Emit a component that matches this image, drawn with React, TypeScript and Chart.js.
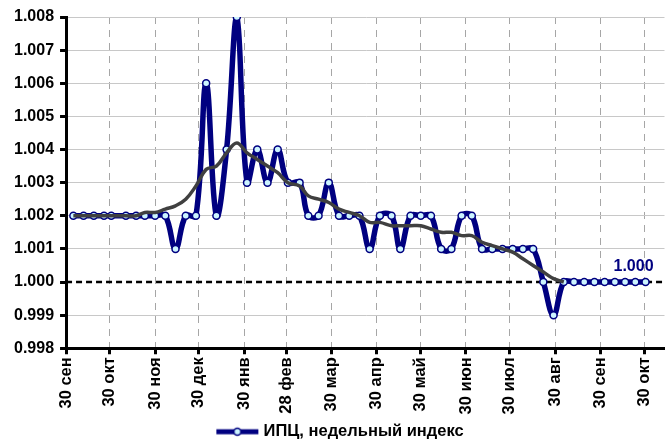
import React, { useEffect, useRef } from "react";
import { Chart, registerables } from "chart.js";

Chart.register(...registerables);

// x positions: days counted from 30 Sep
const tickDays = [0, 30, 61, 91, 122, 151, 182, 213, 243, 274, 304, 335, 366, 396];
const tickLabels = [
  "30 сен", "30 окт", "30 ноя", "30 дек", "30 янв", "28 фев", "30 мар",
  "30 апр", "30 май", "30 июн", "30 июл", "30 авг", "30 сен", "30 окт",
];

const weekDays = [
  5, 12, 19, 26, 31, 41, 48, 54, 61, 68,
  75, 82, 89, 96, 103, 110, 117, 124, 131, 138,
  145, 152, 160, 166, 173, 180, 187, 194, 201, 208,
  215, 223, 229, 236, 243, 250, 257, 264, 271, 278,
  285, 292, 299, 306, 313, 320, 327, 334, 341, 348,
  355, 362, 369, 376, 383, 390, 397,
];

const cpiWeekly = [
  1.002, 1.002, 1.002, 1.002, 1.002, 1.002, 1.002, 1.002, 1.002, 1.002,
  1.001, 1.002, 1.002, 1.006, 1.002, 1.004, 1.008, 1.003, 1.004, 1.003,
  1.004, 1.003, 1.003, 1.002, 1.002, 1.003, 1.002, 1.002, 1.002, 1.001,
  1.002, 1.002, 1.001, 1.002, 1.002, 1.002, 1.001, 1.001, 1.002, 1.002,
  1.001, 1.001, 1.001, 1.001, 1.001, 1.001, 1.0, 0.999, 1.0, 1.0,
  1.0, 1.0, 1.0, 1.0, 1.0, 1.0, 1.0,
];

const cpiTrend: (number | null)[] = [
  1.002, 1.002, 1.002, 1.002, 1.002, 1.002, 1.002, 1.0021, 1.0021, 1.0022,
  1.0023, 1.0025, 1.0029, 1.0034, 1.0035, 1.0039, 1.0042, 1.0039, 1.0037, 1.0035,
  1.0033, 1.003, 1.0029, 1.0026, 1.0025, 1.0024, 1.0022, 1.0021, 1.002, 1.0018,
  1.0018, 1.0017, 1.0017, 1.0017, 1.0017, 1.0016, 1.0015, 1.0015, 1.0014, 1.0014,
  1.0012, 1.0011, 1.001, 1.0009, 1.0007, 1.0005, 1.0003, 1.0001, 1.0,
  null, null, null, null, null, null, null, null,
];

const seriesName = "ИПЦ, недельный индекс";
const lastLabel = "1.000";

const FONT = "'Liberation Sans', Arial, sans-serif";
const NAVY = "#000080";
const MARKER_FILL = "#ccf4ff";

function makeLegendSymbol(): HTMLCanvasElement {
  const c = document.createElement("canvas");
  c.width = 44;
  c.height = 12;
  const g = c.getContext("2d")!;
  g.strokeStyle = NAVY;
  g.lineWidth = 5;
  g.beginPath();
  g.moveTo(1, 6);
  g.lineTo(43, 6);
  g.stroke();
  g.beginPath();
  g.arc(22, 6, 3.5, 0, Math.PI * 2);
  g.fillStyle = MARKER_FILL;
  g.fill();
  g.lineWidth = 1.5;
  g.strokeStyle = NAVY;
  g.stroke();
  return c;
}

export default function App() {
  const ref = useRef<HTMLCanvasElement | null>(null);

  useEffect(() => {
    if (!ref.current) return;
    const symbol = makeLegendSymbol();

    const refLinePlugin = {
      id: "refLine",
      beforeDatasetsDraw(chart: any) {
        const { ctx, chartArea, scales } = chart;
        const y = scales.y.getPixelForValue(1.0);
        ctx.save();
        ctx.strokeStyle = "#000000";
        ctx.lineWidth = 2.5;
        ctx.setLineDash([6, 4]);
        ctx.beginPath();
        ctx.moveTo(chartArea.left, y);
        ctx.lineTo(chartArea.right, y);
        ctx.stroke();
        ctx.restore();
      },
      afterDatasetsDraw(chart: any) {
        const meta = chart.getDatasetMeta(1);
        const pts = meta.data;
        const p = pts[pts.length - 1];
        if (!p) return;
        const { ctx } = chart;
        ctx.save();
        ctx.font = `bold 16px ${FONT}`;
        ctx.fillStyle = NAVY;
        ctx.textAlign = "right";
        ctx.textBaseline = "alphabetic";
        ctx.fillText(lastLabel, p.x + 8, p.y - 11);
        ctx.restore();
      },
    };

    const chart = new Chart(ref.current, {
      type: "line",
      data: {
        datasets: [
          {
            label: "trend",
            data: weekDays.map((d, i) => ({ x: d, y: cpiTrend[i] as any })),
            borderColor: "#404040",
            borderWidth: 3.5,
            pointRadius: 0,
            tension: 0.4,
            fill: false,
            order: 0,
            spanGaps: false,
          },
          {
            label: seriesName,
            data: weekDays.map((d, i) => ({ x: d, y: cpiWeekly[i] })),
            borderColor: NAVY,
            borderWidth: 5.5,
            pointRadius: 3.5,
            pointBorderWidth: 1.5,
            pointBackgroundColor: MARKER_FILL,
            pointBorderColor: NAVY,
            tension: 0.4,
            fill: false,
            order: 1,
          },
        ],
      },
      options: {
        animation: false,
        responsive: false,
        devicePixelRatio: 1,
        layout: { padding: { left: 8, right: -5, top: 17, bottom: -9 } },
        plugins: {
          tooltip: { enabled: false },
          legend: {
            position: "bottom",
            labels: {
              usePointStyle: true,
              pointStyleWidth: 36,
              color: "#000",
              font: { family: FONT, size: 16.5, weight: "bold" },
              padding: 6,
              generateLabels: () => [
                {
                  text: seriesName,
                  pointStyle: symbol as any,
                  datasetIndex: 1,
                  fillStyle: NAVY,
                  strokeStyle: NAVY,
                  lineWidth: 0,
                  hidden: false,
                },
              ],
            },
          },
        },
        scales: {
          x: {
            type: "linear",
            min: 0,
            max: 410,
            afterBuildTicks: (scale: any) => {
              scale.ticks = tickDays.map((v) => ({ value: v }));
            },
            ticks: {
              autoSkip: false,
              minRotation: 90,
              maxRotation: 90,
              padding: 3,
              color: "#000",
              font: { family: FONT, size: 16.5, weight: "bold" },
              callback: (_v: any, i: number) => tickLabels[i],
            },
            grid: {
              color: "#a6a6a6",
              lineWidth: 1,
              drawTicks: true,
              tickLength: 6,
              tickColor: "#000",
              tickWidth: 3,
            },
            border: { display: true, color: "#000", width: 3, dash: [7, 6] },
          },
          y: {
            type: "linear",
            min: 0.998,
            max: 1.008,
            ticks: {
              stepSize: 0.001,
              padding: 6,
              color: "#000",
              font: { family: FONT, size: 16, weight: "bold" },
              callback: (v: any) => Number(v).toFixed(3),
            },
            grid: {
              color: (c: any) =>
                c.tick && Math.abs(c.tick.value - 1.0) < 1e-9 ? "rgba(0,0,0,0)" : "#c8c8c8",
              lineWidth: 1,
              drawTicks: true,
              tickLength: 6,
              tickColor: "#000",
              tickWidth: 3,
            },
            border: { display: true, color: "#000", width: 3 },
          },
        },
      },
      plugins: [refLinePlugin],
    } as any);

    return () => chart.destroy();
  }, []);

  return (
    <div style={{ position: "fixed", left: 0, top: 0, width: 670, height: 441, background: "#fff" }}>
      <canvas ref={ref} width={670} height={441} />
    </div>
  );
}
